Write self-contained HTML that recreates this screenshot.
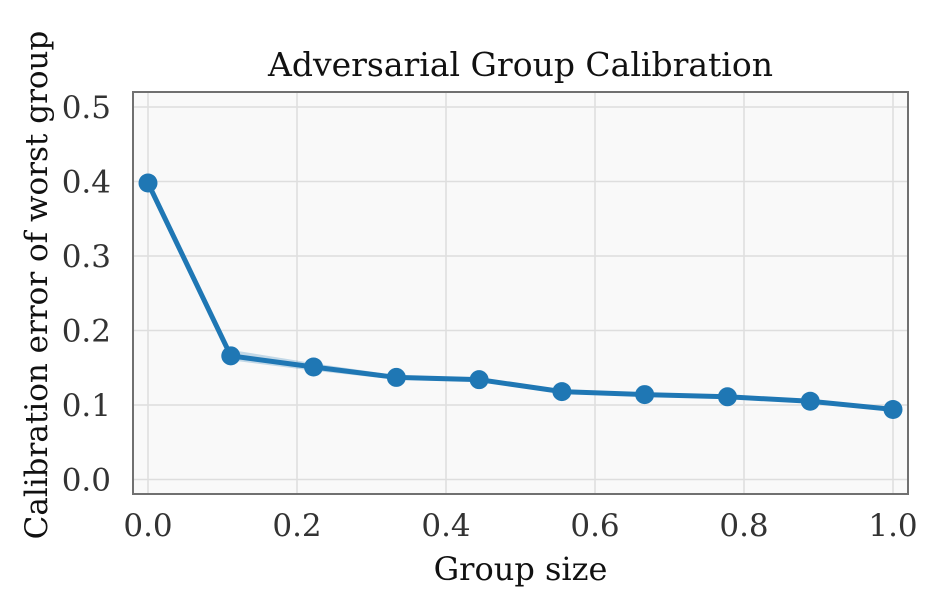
<!DOCTYPE html>
<html><head><meta charset="utf-8"><style>
body{margin:0;background:#fff;}
svg{display:block;font-family:"DejaVu Serif","Liberation Serif",serif;}
</style></head><body>
<svg id="chart" width="939" height="606"></svg>
<script>
const xValues=[0,1/9,2/9,3/9,4/9,5/9,6/9,7/9,8/9,1];
const yValues=[0.398,0.166,0.151,0.137,0.134,0.118,0.114,0.111,0.105,0.094];
const bandLo=[0.394,0.160,0.146,0.134,0.131,0.116,0.112,0.109,0.103,0.092];
const bandHi=[0.402,0.174,0.156,0.140,0.137,0.120,0.116,0.113,0.107,0.096];
const xTicks=[0,0.2,0.4,0.6,0.8,1.0];
const xTickLabels=["0.0","0.2","0.4","0.6","0.8","1.0"];
const yTicks=[0,0.1,0.2,0.3,0.4,0.5];
const yTickLabels=["0.0","0.1","0.2","0.3","0.4","0.5"];
const L=133,R=908,T=92,B=494;
const X=v=>148+v*745, Y=v=>479.5-v*745;
const svg=document.getElementById('chart');
const NS='http://www.w3.org/2000/svg';
function mk(tag,attrs,parent){const e=document.createElementNS(NS,tag);for(const k in attrs)e.setAttribute(k,attrs[k]);(parent||svg).appendChild(e);return e;}
let e=mk('rect',{x:L,y:T,width:R-L,height:B-T,fill:'#f9f9f9'});


xTicks.forEach((t,i)=>{
 let g=mk('line',{x1:X(t),x2:X(t),y1:T,y2:B,stroke:'#dedede','stroke-width':1.5});
 
 
 let tx=mk('text',{x:X(t),y:B+42,'text-anchor':'middle','font-size':31,fill:'#333'});
 tx.textContent=xTickLabels[i];
 
 
});
yTicks.forEach((t,i)=>{
 let g=mk('line',{x1:L,x2:R,y1:Y(t),y2:Y(t),stroke:'#dedede','stroke-width':1.5});
 
 
 let tx=mk('text',{x:L-22,y:Y(t)+11,'text-anchor':'end','font-size':31,fill:'#333'});
 tx.textContent=yTickLabels[i];
 
 
});
let bp=xValues.map((x,i)=>X(x)+','+Y(bandHi[i])).concat(xValues.map((x,i)=>X(x)+','+Y(bandLo[i])).reverse());
e=mk('polygon',{points:bp.join(' '),fill:'#1f77b4','fill-opacity':0.25});


e=mk('polyline',{points:xValues.map((x,i)=>X(x)+','+Y(yValues[i])).join(' '),fill:'none',stroke:'#1f77b4','stroke-width':5});


xValues.forEach((x,i)=>{
 let c=mk('circle',{cx:X(x),cy:Y(yValues[i]),r:9.5,fill:'#1f77b4'});
 
 
});
e=mk('rect',{x:L,y:T,width:R-L,height:B-T,fill:'none',stroke:'#707070','stroke-width':2});


e=mk('text',{x:(L+R)/2,y:76,'text-anchor':'middle','font-size':33,fill:'#111'});
e.textContent='Adversarial Group Calibration';


e=mk('text',{x:(L+R)/2,y:580,'text-anchor':'middle','font-size':32,fill:'#111'});
e.textContent='Group size';


e=mk('text',{x:0,y:0,'text-anchor':'middle','font-size':31,fill:'#111',transform:'translate(47,285) rotate(-90)'});
e.textContent='Calibration error of worst group';


</script>
</body></html>
